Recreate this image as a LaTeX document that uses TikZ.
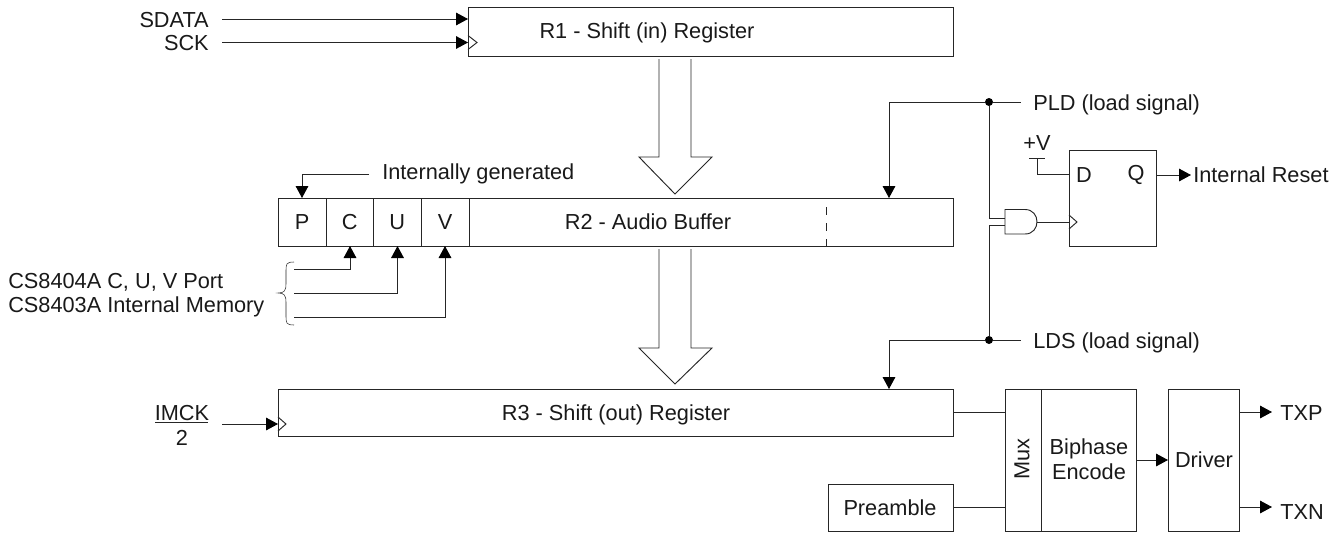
\documentclass[tikz,border=0pt]{standalone}
\usepackage{fontspec}
\setmainfont{Liberation Sans}
\usetikzlibrary{arrows.meta}
\tikzset{
    wire/.style={draw=black!85, line width=0.7pt},
    sig/.style={wire, -{Triangle[length=9pt,width=9.5pt,black]}},
    blockbox/.style={draw=black!85, line width=0.7pt, fill=white, anchor=north west, inner sep=0pt},
    lbl/.style={font=\fontsize{16.3pt}{19pt}\selectfont, inner sep=0pt, text=black!90},
    dotnode/.style={circle, fill=black, inner sep=0pt, minimum size=6pt},
    busarrow/.style={draw=black!85, line width=0.7pt, fill=white},
}
\begin{document}
\begin{tikzpicture}[x=0.75pt, y=-0.75pt]
    \useasboundingbox (0,0) rectangle (1343,533);
    % registers
    \node[blockbox, minimum width=363.75pt, minimum height=36.5pt] (R1) at (468,7) {};
    \node[lbl] (R1t) at (647,33) {R1 - Shift (in) Register};
    \node[blockbox, minimum width=506.25pt, minimum height=36pt] (R2) at (278,198) {};
    \node[blockbox, minimum width=506.25pt, minimum height=35.5pt] (R3) at (278,389) {};
    \node[lbl] (R2t) at (648,222) {R2 - Audio Buffer};
    \node[lbl] (R3t) at (616,415) {R3 - Shift (out) Register};
    % P C U V cells
    \foreach \name/\xa/\xb in {P/278/326, C/326/373.5, U/373.5/421, V/421/469} {
        \draw[wire] (\xb,198) -- (\xb,246);
        \node[lbl] (cell\name) at ({(\xa+\xb)/2},222) {\name};
    }
    \draw[wire, dash pattern=on 6pt off 6pt, dash phase=5.25pt] (826,198) -- (826,246);
    % bus arrows
    \draw[busarrow] (659,59) -- (659,157) -- (639,157) -- (675,194) -- (712,157) -- (691,157) -- (691,59);
    \draw[busarrow] (659,249) -- (659,348) -- (639,348) -- (675,384) -- (712,348) -- (691,348) -- (691,249);
    % inputs
    \node[lbl, anchor=east] (SDATA) at (209,20) {SDATA};
    \node[lbl, anchor=east] (SCK) at (209,43) {SCK};
    \coordinate (SDATAe) at (222,19);
    \coordinate (SCKe) at (222,42.5);
    \draw[sig] (SDATAe) -- (468,19);
    \draw[sig] (SCKe) -- (468,42.5);
    \draw[wire] (468,35.5) -- (477,42.5) -- (468,49.5);
    \node[lbl] (IMCK) at (182,413) {IMCK};
    \node[lbl] (two) at (182,438) {2};
    \draw[wire] (155,422.5) -- (208,422.5);
    \draw[sig] (222,424) -- (278,424);
    \draw[wire] (278,417) -- (286,424) -- (278,431);
    % internally generated
    \node[lbl, anchor=west] (intgen) at (382,174) {Internally generated};
    \draw[sig] (369,174) -- (302,174) -- (302,198);
    % C U V port
    \draw[sig] (294,269) -- (350,269) -- (350,246);
    \draw[sig] (294,293) -- (397.5,293) -- (397.5,246);
    \draw[sig] (294,317) -- (445,317) -- (445,246);
    \draw[wire, line width=0.4pt] (294,262) .. controls (286,262) and (286,264) .. (286,272) -- (286,284) .. controls (286,291) and (284,293) .. (278,293) .. controls (284,293) and (286,295) .. (286,302) -- (286,315) .. controls (286,323) and (286,325) .. (294,325);
    \node[lbl, anchor=west] (port) at (8,282) {CS8404A C, U, V Port};
    \node[lbl, anchor=west] (mem) at (8,307) {CS8403A Internal Memory};
    % load signals
    \node[dotnode] (pldj) at (989,102) {};
    \node[dotnode] (ldsj) at (989,340) {};
    \node[lbl, anchor=west] (PLD) at (1033,105) {PLD (load signal)};
    \node[lbl, anchor=west] (LDS) at (1033,343) {LDS (load signal)};
    \draw[wire] (pldj) -- (1021,102);
    \draw[wire] (ldsj) -- (1021,340);
    \draw[sig] (pldj) -- (889,102) -- (889,198);
    \draw[sig] (ldsj) -- (889,340) -- (889,389);
    % and gate + flip flop
    \draw[wire] (pldj) -- (989,218) -- (1005,218);
    \draw[wire] (ldsj) -- (989,225.7) -- (1005,225.7);
    \draw[wire, fill=white] (1025,209.5) -- (1005,209.5) -- (1005,234) -- (1025,234) .. controls (1041,234) and (1041,209.5) .. (1025,209.5);
    \draw[wire] (1037,222) -- (1069,222);
    \node[blockbox, minimum width=65.25pt, minimum height=72pt] (FF) at (1069,150) {};
    \draw[wire] (1069,215) -- (1077,222) -- (1069,229);
    \node[lbl] (D) at (1084,175) {D};
    \node[lbl] (Q) at (1136,175) {Q};
    \draw[wire] (1029,158) -- (1045,158);
    \draw[wire] (1037,158) -- (1037,174) -- (1069,174);
    \node[lbl] (vplus) at (1037,143) {+V};
    \draw[sig] (1156,175) -- (1191,175);
    \node[lbl, anchor=west] (reset) at (1193,175) {Internal Reset};
    % output section
    \node[blockbox, minimum width=27pt, minimum height=106.5pt] (mux) at (1005,389) {};
    \node[blockbox, minimum width=71.25pt, minimum height=106.5pt] (bip) at (1041,389) {};
    \node[blockbox, minimum width=53.25pt, minimum height=106.5pt] (drv) at (1168,389) {};
    \node[blockbox, minimum width=93.75pt, minimum height=35.25pt] (pre) at (828,484) {};
    \node[lbl, rotate=90] (muxt) at (1022,459) {Mux};
    \node[lbl, align=center] (bipt) at (1089,459) {Biphase\\Encode};
    \node[lbl] (drvt) at (1204,460) {Driver};
    \node[lbl] (pret) at (890,508) {Preamble};
    \draw[wire] (953,412) -- (1005,412);
    \draw[wire] (953,507) -- (1005,507);
    \draw[sig] (1136,460) -- (1168,460);
    \draw[sig] (1239,412) -- (1272,412);
    \draw[sig] (1239,507) -- (1272,507);
    \node[lbl, anchor=west] (TXP) at (1280,413) {TXP};
    \node[lbl, anchor=west] (TXN) at (1280,512) {TXN};
\end{tikzpicture}
\end{document}
